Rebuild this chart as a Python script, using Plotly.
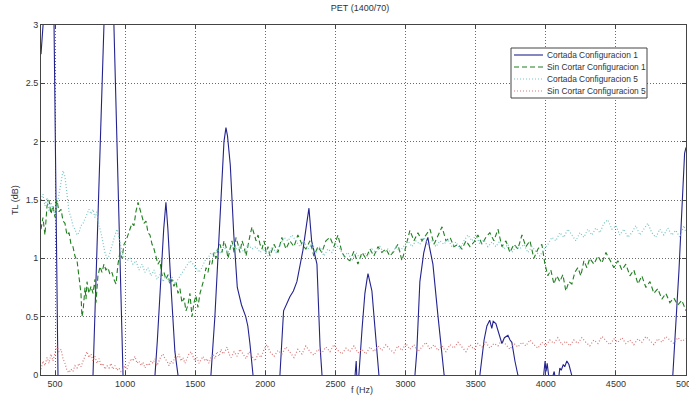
import plotly.graph_objects as go

title_text = "PET (1400/70)"
x_label = "f (Hz)"
y_label = "TL (dB)"
series_names = ["Cortada Configuracion 1", "Sin Cortar Configuracion 1",
                "Cortada Configuracion 5", "Sin Cortar Configuracion 5"]
x_ticks = [500, 1000, 1500, 2000, 2500, 3000, 3500, 4000, 4500, 5000]
y_ticks = [0, 0.5, 1, 1.5, 2, 2.5, 3]

# Cortada Configuracion 1
f_c1 = [400, 420, 450, 480, 493, 521, 560, 700, 771, 849,
        870, 900, 920, 985, 1050, 1150, 1213, 1230, 1255, 1275,
        1291, 1305, 1330, 1355, 1377, 1450, 1540, 1612, 1640, 1662,
        1684, 1705, 1719, 1730, 1750, 1775, 1800, 1830, 1860, 1875,
        1890, 1912, 1980, 2060, 2104, 2130, 2175, 2200, 2225, 2268,
        2295, 2311, 2330, 2368, 2390, 2404, 2480, 2580, 2640, 2648,
        2655, 2667, 2690, 2710, 2725, 2732, 2745, 2760, 2775, 2795,
        2810, 2900, 3000, 3067, 3080, 3102, 3130, 3150, 3159, 3170,
        3195, 3230, 3255, 3275, 3380, 3470, 3530, 3560, 3580, 3600,
        3615, 3625, 3644, 3665, 3687, 3705, 3730, 3745, 3758, 3780,
        3801, 3870, 3960, 3985, 3995, 4002, 4010, 4020, 4040, 4060,
        4070, 4090, 4100, 4110, 4125, 4135, 4150, 4165, 4185, 4250,
        4800, 4906, 4950, 4990, 5000]
tl_c1 = [2.75, 3.2, 3.6, 3.5, 3.0, 0.0, -1.0, -1.0, 0.0, 3.0,
         3.6, 3.5, 3.0, 0.0, -0.8, -0.8, 0.0, 0.3, 0.85, 1.25,
         1.48, 1.25, 0.7, 0.2, 0.0, -0.6, -0.6, 0.0, 0.5, 1.0,
         1.5, 2.0, 2.12, 2.05, 1.8, 1.2, 0.75, 0.6, 0.5, 0.42,
         0.27, 0.0, -0.6, -0.6, 0.0, 0.55, 0.67, 0.72, 0.8, 1.07,
         1.3, 1.43, 1.15, 0.95, 0.25, 0.0, -0.5, -0.5, 0.0, 0.12,
         -0.1, 0.0, 0.4, 0.7, 0.82, 0.87, 0.8, 0.72, 0.5, 0.2,
         0.0, -0.6, -0.6, 0.0, 0.2, 0.8, 1.05, 1.15, 1.18, 1.1,
         0.95, 0.52, 0.2, 0.0, -0.4, -0.4, 0.0, 0.3, 0.42, 0.47,
         0.4, 0.46, 0.44, 0.35, 0.27, 0.32, 0.34, 0.3, 0.28, 0.12,
         0.0, -0.3, -0.3, 0.0, 0.12, 0.03, 0.1, 0.0, -0.05, 0.03,
         -0.05, -0.05, 0.06, 0.04, 0.09, 0.07, 0.12, 0.09, 0.0, -0.3,
         -0.3, 0.0, 0.9, 1.9, 1.95]

# Sin Cortar Configuracion 1
f_s1 = [400, 414, 428, 443, 457, 471, 485, 500, 514, 528,
        543, 557, 571, 585, 600, 614, 628, 642, 657, 671,
        685, 692, 700, 714, 721, 728, 742, 757, 771, 785,
        792, 806, 821, 835, 849, 863, 878, 892, 906, 920,
        935, 949, 963, 978, 992, 1006, 1020, 1035, 1049, 1063,
        1077, 1092, 1106, 1120, 1134, 1149, 1163, 1177, 1192, 1206,
        1220, 1234, 1248, 1263, 1277, 1291, 1306, 1320, 1334, 1348,
        1363, 1377, 1391, 1405, 1420, 1434, 1448, 1462, 1477, 1491,
        1505, 1519, 1534, 1548, 1562, 1577, 1591, 1605, 1619, 1634,
        1648, 1662, 1677, 1691, 1705, 1719, 1734, 1748, 1762, 1777,
        1791, 1805, 1819, 1834, 1848, 1862, 1877, 1891, 1905, 1919,
        1934, 1948, 1962, 1976, 1991, 2005, 2019, 2033, 2062, 2090,
        2118, 2147, 2175, 2204, 2232, 2261, 2289, 2318, 2346, 2375,
        2403, 2432, 2461, 2489, 2518, 2546, 2575, 2603, 2632, 2660,
        2689, 2717, 2746, 2774, 2803, 2831, 2860, 2888, 2917, 2945,
        2974, 3002, 3031, 3060, 3088, 3117, 3145, 3174, 3203, 3231,
        3260, 3288, 3317, 3345, 3374, 3402, 3431, 3459, 3488, 3516,
        3545, 3573, 3601, 3630, 3659, 3687, 3716, 3744, 3773, 3801,
        3830, 3858, 3887, 3915, 3944, 3972, 3994, 4015, 4036, 4058,
        4079, 4100, 4122, 4143, 4165, 4186, 4207, 4229, 4250, 4272,
        4293, 4314, 4343, 4372, 4400, 4429, 4457, 4486, 4514, 4543,
        4571, 4600, 4628, 4657, 4685, 4714, 4743, 4771, 4799, 4828,
        4856, 4885, 4913, 4942, 4970, 5000]
tl_s1 = [1.25, 1.35, 1.2, 1.45, 1.5, 1.38, 1.45, 1.35, 1.5, 1.4,
         1.42, 1.32, 1.3, 1.2, 1.22, 1.12, 1.1, 1.02, 0.98, 0.85,
         0.7, 0.5, 0.55, 0.75, 0.65, 0.8, 0.7, 0.76, 0.7, 0.82,
         0.62, 0.85, 0.93, 0.88, 0.95, 0.9, 0.92, 0.86, 0.88, 0.82,
         0.78, 0.95, 1.05, 1.0, 1.12, 1.15, 1.2, 1.25, 1.3, 1.28,
         1.4, 1.48, 1.42, 1.35, 1.3, 1.32, 1.22, 1.2, 1.12, 1.08,
         1.0, 0.95, 0.98, 0.85, 0.88, 0.82, 0.86, 0.78, 0.82, 0.76,
         0.8, 0.7, 0.74, 0.62, 0.66, 0.55, 0.6, 0.7, 0.5, 0.62,
         0.68, 0.58, 0.7, 0.75, 0.82, 0.92, 0.88, 0.98, 0.95, 1.05,
         1.0, 1.08, 1.12, 1.05, 1.15, 1.1, 1.0, 1.08, 1.15, 1.05,
         1.18, 1.12, 1.05, 1.15, 1.1, 1.02, 1.12, 1.2, 1.27, 1.2,
         1.15, 1.2, 1.12, 1.08, 1.15, 1.05, 1.1, 1.02, 1.12, 1.05,
         1.18, 1.08, 1.15, 1.1, 1.2, 1.12, 1.08, 1.15, 1.02, 1.1,
         1.05, 1.15, 1.18, 1.1, 1.2, 1.05, 1.0, 0.98, 1.06, 0.95,
         1.05, 1.0, 1.08, 1.02, 1.1, 1.05, 1.08, 1.02, 1.06, 1.12,
         0.98, 1.1, 1.24, 1.15, 1.22, 1.15, 1.2, 1.25, 1.12, 1.2,
         1.27, 1.15, 1.18, 1.1, 1.12, 1.08, 1.15, 1.1, 1.14, 1.2,
         1.12, 1.18, 1.22, 1.15, 1.25, 1.1, 1.15, 1.05, 1.12, 1.08,
         1.2, 1.1, 1.15, 1.0, 1.08, 1.12, 0.95, 0.85, 0.9, 0.78,
         0.85, 0.8, 0.86, 0.72, 0.8, 0.78, 0.88, 0.92, 0.85, 0.98,
         0.92, 1.0, 0.95, 1.02, 0.96, 1.05, 0.98, 0.92, 0.98, 0.9,
         0.95, 0.85, 0.9, 0.78, 0.85, 0.75, 0.8, 0.7, 0.74, 0.65,
         0.7, 0.62, 0.66, 0.6, 0.64, 0.55]

# Cortada Configuracion 5
f_c5 = [400, 414, 428, 443, 457, 471, 485, 500, 514, 528,
        543, 557, 571, 585, 600, 614, 628, 642, 657, 671,
        685, 700, 714, 728, 742, 757, 771, 785, 799, 814,
        828, 842, 856, 871, 885, 899, 913, 928, 942, 956,
        970, 985, 999, 1013, 1035, 1056, 1077, 1099, 1120, 1142,
        1163, 1185, 1206, 1227, 1248, 1270, 1291, 1313, 1334, 1355,
        1377, 1398, 1420, 1441, 1462, 1484, 1505, 1527, 1548, 1569,
        1591, 1612, 1634, 1655, 1677, 1705, 1734, 1762, 1791, 1819,
        1848, 1877, 1905, 1934, 1962, 1991, 2019, 2048, 2076, 2104,
        2133, 2161, 2190, 2218, 2247, 2275, 2304, 2332, 2361, 2389,
        2418, 2446, 2475, 2503, 2532, 2560, 2589, 2617, 2646, 2674,
        2703, 2732, 2760, 2789, 2817, 2846, 2874, 2903, 2931, 2960,
        2988, 3017, 3045, 3074, 3102, 3131, 3159, 3188, 3217, 3245,
        3274, 3302, 3331, 3359, 3388, 3416, 3445, 3473, 3502, 3530,
        3559, 3587, 3616, 3644, 3673, 3701, 3730, 3758, 3787, 3815,
        3844, 3872, 3901, 3929, 3958, 3987, 4015, 4044, 4072, 4100,
        4129, 4157, 4186, 4215, 4243, 4272, 4300, 4329, 4357, 4386,
        4414, 4443, 4471, 4500, 4528, 4557, 4585, 4614, 4642, 4671,
        4699, 4728, 4756, 4785, 4813, 4842, 4870, 4899, 4927, 4956,
        4985, 5000]
tl_c5 = [1.5, 1.55, 1.45, 1.52, 1.4, 1.48, 1.42, 1.38, 1.45, 1.55,
         1.68, 1.75, 1.7, 1.55, 1.4, 1.35, 1.28, 1.25, 1.2, 1.22,
         1.28, 1.3, 1.35, 1.38, 1.42, 1.38, 1.42, 1.35, 1.4, 1.28,
         1.22, 1.12, 1.05, 1.0, 1.02, 1.08, 1.15, 1.2, 1.25, 1.18,
         1.1, 1.02, 1.0, 0.98, 1.0, 0.95, 0.98, 0.9, 0.95, 0.88,
         0.92, 0.85, 0.9, 0.82, 0.86, 0.8, 0.85, 0.8, 0.84, 0.78,
         0.82, 0.86, 0.9, 0.95, 0.98, 0.95, 0.92, 0.88, 0.92, 0.98,
         1.0, 1.05, 1.02, 1.08, 1.05, 1.1, 1.05, 1.12, 1.08, 1.1,
         1.05, 1.12, 1.08, 1.1, 1.05, 1.08, 1.02, 1.1, 1.05, 1.12,
         1.18, 1.15, 1.2, 1.15, 1.1, 1.15, 1.08, 1.12, 1.05, 1.1,
         1.02, 1.08, 1.05, 1.12, 1.08, 1.02, 1.05, 0.98, 1.05, 1.0,
         1.05, 1.02, 1.08, 1.05, 1.1, 1.05, 1.08, 1.04, 1.1, 1.06,
         1.1, 1.15, 1.1, 1.15, 1.12, 1.18, 1.12, 1.15, 1.1, 1.15,
         1.12, 1.16, 1.1, 1.14, 1.08, 1.15, 1.2, 1.15, 1.2, 1.12,
         1.16, 1.1, 1.14, 1.1, 1.15, 1.08, 1.12, 1.05, 1.1, 1.08,
         1.12, 1.05, 1.1, 1.06, 1.02, 1.08, 1.12, 1.18, 1.15, 1.22,
         1.18, 1.25, 1.2, 1.15, 1.22, 1.18, 1.25, 1.2, 1.26, 1.22,
         1.3, 1.33, 1.25, 1.28, 1.2, 1.25, 1.18, 1.22, 1.28, 1.2,
         1.25, 1.3, 1.22, 1.18, 1.25, 1.2, 1.26, 1.2, 1.24, 1.18,
         1.28, 1.22]

# Sin Cortar Configuracion 5
f_s5 = [400, 414, 428, 443, 457, 471, 485, 500, 514, 528,
        543, 557, 571, 585, 600, 614, 628, 642, 657, 671,
        685, 700, 714, 728, 742, 757, 771, 785, 799, 814,
        828, 842, 856, 871, 885, 899, 913, 928, 942, 956,
        970, 985, 999, 1013, 1027, 1042, 1056, 1070, 1085, 1099,
        1113, 1127, 1142, 1156, 1170, 1185, 1199, 1213, 1227, 1241,
        1256, 1270, 1284, 1298, 1313, 1327, 1341, 1355, 1370, 1384,
        1398, 1412, 1427, 1441, 1455, 1470, 1484, 1498, 1512, 1527,
        1541, 1555, 1569, 1584, 1598, 1612, 1627, 1641, 1655, 1670,
        1684, 1698, 1712, 1727, 1741, 1755, 1777, 1798, 1819, 1841,
        1862, 1884, 1905, 1926, 1948, 1969, 1991, 2012, 2033, 2062,
        2090, 2118, 2147, 2175, 2204, 2232, 2261, 2289, 2318, 2346,
        2375, 2403, 2432, 2461, 2489, 2518, 2546, 2575, 2603, 2632,
        2660, 2689, 2717, 2746, 2774, 2803, 2831, 2860, 2888, 2917,
        2945, 2974, 3002, 3031, 3060, 3088, 3117, 3145, 3174, 3203,
        3231, 3260, 3288, 3317, 3345, 3374, 3402, 3431, 3459, 3488,
        3516, 3545, 3573, 3601, 3630, 3659, 3687, 3716, 3744, 3773,
        3801, 3830, 3858, 3887, 3915, 3944, 3972, 4001, 4029, 4058,
        4086, 4115, 4143, 4172, 4200, 4229, 4257, 4286, 4314, 4343,
        4372, 4400, 4429, 4457, 4486, 4514, 4543, 4571, 4600, 4628,
        4657, 4685, 4714, 4743, 4771, 4799, 4828, 4856, 4885, 4913,
        4942, 4970, 5000]
tl_s5 = [0.05, 0.12, 0.08, 0.15, 0.1, 0.18, 0.12, 0.2, 0.25, 0.2,
         0.22, 0.14, 0.1, 0.04, 0.02, 0.05, 0.03, 0.08, 0.06, 0.1,
         0.07, 0.12, 0.16, 0.2, 0.15, 0.18, 0.12, 0.16, 0.1, 0.14,
         0.08, 0.1, 0.05, 0.08, 0.06, 0.1, 0.05, 0.08, 0.04, 0.06,
         0.03, 0.05, 0.08, 0.05, 0.1, 0.14, 0.12, 0.16, 0.1, 0.12,
         0.08, 0.11, 0.06, 0.1, 0.08, 0.12, 0.1, 0.14, 0.08, 0.12,
         0.16, 0.18, 0.14, 0.12, 0.08, 0.12, 0.1, 0.16, 0.14, 0.18,
         0.12, 0.15, 0.1, 0.14, 0.18, 0.2, 0.16, 0.12, 0.15, 0.1,
         0.13, 0.16, 0.12, 0.14, 0.1, 0.15, 0.18, 0.14, 0.2, 0.16,
         0.22, 0.18, 0.2, 0.24, 0.18, 0.15, 0.2, 0.16, 0.22, 0.18,
         0.14, 0.2, 0.16, 0.12, 0.18, 0.15, 0.22, 0.26, 0.2, 0.16,
         0.21, 0.18, 0.24, 0.2, 0.15, 0.22, 0.18, 0.25, 0.2, 0.17,
         0.22, 0.19, 0.24, 0.2, 0.26, 0.21, 0.18, 0.23, 0.2, 0.25,
         0.19, 0.22, 0.18, 0.24, 0.2, 0.25, 0.21, 0.26, 0.22, 0.19,
         0.25, 0.21, 0.27, 0.22, 0.26, 0.2, 0.24, 0.28, 0.22, 0.26,
         0.21, 0.25, 0.2, 0.26, 0.23, 0.28, 0.24, 0.2, 0.26, 0.22,
         0.27, 0.24, 0.28, 0.23, 0.27, 0.25, 0.3, 0.26, 0.22, 0.27,
         0.24, 0.28, 0.25, 0.3, 0.26, 0.23, 0.28, 0.25, 0.3, 0.27,
         0.32, 0.26, 0.29, 0.25, 0.3, 0.27, 0.32, 0.28, 0.25, 0.3,
         0.27, 0.33, 0.29, 0.26, 0.31, 0.28, 0.32, 0.27, 0.3, 0.26,
         0.31, 0.28, 0.33, 0.29, 0.26, 0.31, 0.28, 0.33, 0.3, 0.27,
         0.32, 0.29, 0.31]

colors = ["#23238f", "#1f7f1f", "#78c4c4", "#d87878"]
dashes = ["solid", "5px,3px", "1px,2px", "1px,2px"]
widths = [1.1, 1.1, 1.2, 1.2]

FONT = "Liberation Sans, Arial, sans-serif"
TXT = "#333333"

fig = go.Figure()
series = [(f_c1, tl_c1), (f_s1, tl_s1), (f_c5, tl_c5), (f_s5, tl_s5)]
for (fx, ty), name, col, dsh, w in zip(series, series_names, colors, dashes, widths):
    fig.add_trace(go.Scatter(x=fx, y=ty, mode="lines", name=name,
                             line=dict(color=col, dash=dsh, width=w),
                             showlegend=False))

# plot area geometry (px): left 41, right 686, top 25, bottom 375
W, H = 689, 396
L, R, T, B = 41, 3, 25, 21
pw, ph = W - L - R, H - T - B

def px2paper_x(px):
    return (px - L) / pw

def px2paper_y(py):
    return (H - B - py) / ph

# compact MATLAB-like legend
shapes = [dict(type="rect", xref="paper", yref="paper",
               x0=px2paper_x(511), x1=px2paper_x(647),
               y0=px2paper_y(98), y1=px2paper_y(48),
               line=dict(color="#444444", width=1), fillcolor="white", layer="above")]
annotations = []
rows_y = [55, 67, 79, 91]
for name, col, dsh, w, ry in zip(series_names, colors, dashes, widths, rows_y):
    shapes.append(dict(type="line", xref="paper", yref="paper",
                       x0=px2paper_x(514), x1=px2paper_x(543),
                       y0=px2paper_y(ry), y1=px2paper_y(ry),
                       line=dict(color=col, dash=dsh, width=w), layer="above"))
    annotations.append(dict(text=name, xref="paper", yref="paper",
                            x=px2paper_x(545), y=px2paper_y(ry),
                            xanchor="left", yanchor="middle", showarrow=False,
                            font=dict(family=FONT, size=8.4, color=TXT)))

annotations.append(dict(text=y_label, xref="paper", yref="paper",
                        x=px2paper_x(15), y=0.5, textangle=-90,
                        xanchor="center", yanchor="middle", showarrow=False,
                        font=dict(family=FONT, size=9, color=TXT)))
annotations.append(dict(text=x_label, xref="paper", yref="paper",
                        x=px2paper_x(362), y=px2paper_y(390),
                        xanchor="center", yanchor="middle", showarrow=False,
                        font=dict(family=FONT, size=9, color=TXT)))

axis_common = dict(showline=True, linecolor="#444444", linewidth=1, mirror="ticks",
                   ticks="inside", ticklen=4, tickcolor="#444444",
                   showgrid=True, gridcolor="#6a6a6a", griddash="1px,2px", gridwidth=1,
                   zeroline=False, ticklabeloverflow="allow", automargin=False,
                   tickfont=dict(family=FONT, size=9, color=TXT))

fig.update_layout(
    width=W, height=H,
    margin=dict(l=L, r=R, t=T, b=B, autoexpand=False),
    paper_bgcolor="white", plot_bgcolor="white",
    title=dict(text=title_text, x=px2paper_x(360), xref="paper",
               y=1 - 8 / H, yref="container", xanchor="center", yanchor="middle",
               font=dict(family=FONT, size=9, color=TXT)),
    xaxis=dict(range=[400, 5000], tickvals=x_ticks,
               ticktext=[str(v) for v in x_ticks], **axis_common),
    yaxis=dict(range=[0, 3], tickvals=y_ticks,
               ticktext=[("%g" % v) for v in y_ticks], **axis_common),
    shapes=shapes, annotations=annotations,
    showlegend=False,
)

fig.write_html("out.html")
